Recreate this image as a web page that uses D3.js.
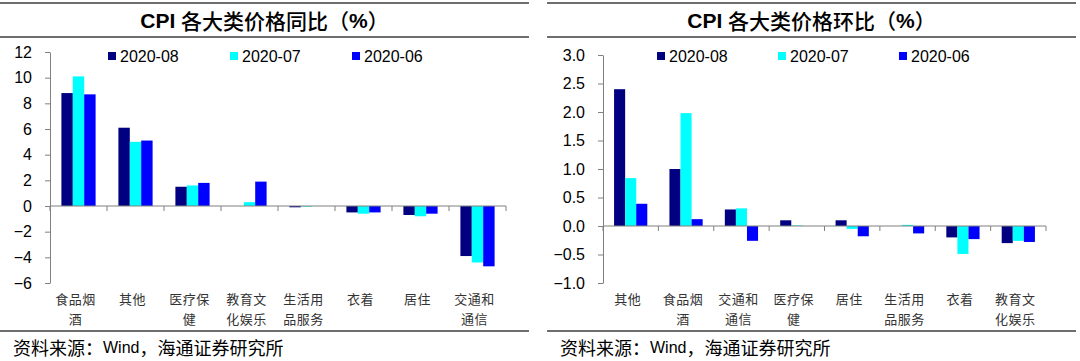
<!DOCTYPE html>
<html>
<head>
<meta charset="utf-8">
<script src="https://cdn.jsdelivr.net/npm/d3@7"></script>
<style>
  html, body { margin: 0; padding: 0; background: #fff; }
  svg { display: block; }
</style>
</head>
<body>
<svg id="chart" width="1080" height="361"></svg>
<script>
// ---------- data ----------
const seriesNames = ["2020-08", "2020-07", "2020-06"];
const seriesColors = ["#000080", "#00FFFF", "#0000FF"];

// 同比 (year on year)
const yoyCategories = ["食品烟酒", "其他", "医疗保健", "教育文化娱乐", "生活用品服务", "衣着", "居住", "交通和通信"];
const yoy202008 = [8.8, 6.1, 1.5, 0.0, -0.1, -0.5, -0.7, -3.9];
const yoy202007 = [10.1, 5.0, 1.6, 0.3, -0.05, -0.6, -0.8, -4.4];
const yoy202006 = [8.7, 5.1, 1.8, 1.9, 0.0, -0.5, -0.6, -4.7];
const yoyTicks = [-6, -4, -2, 0, 2, 4, 6, 8, 10, 12];

// 环比 (month on month)
const momCategories = ["其他", "食品烟酒", "交通和通信", "医疗保健", "居住", "生活用品服务", "衣着", "教育文化娱乐"];
const mom202008 = [2.4, 1.0, 0.29, 0.1, 0.1, 0.0, -0.2, -0.3];
const mom202007 = [0.84, 1.98, 0.31, 0.01, -0.05, 0.02, -0.49, -0.26];
const mom202006 = [0.39, 0.12, -0.26, 0.0, -0.18, -0.13, -0.23, -0.28];
const momTicks = [-1.0, -0.5, 0.0, 0.5, 1.0, 1.5, 2.0, 2.5, 3.0];

const sourceParts = ["资料来源：", "Wind", "，海通证券研究所"];

// ---------- drawing ----------
const svg = d3.select("#chart");
const FONT = "'Liberation Sans', Arial, 'Noto Sans CJK SC', sans-serif";
const CJK = "'Noto Sans CJK SC', 'Liberation Sans', sans-serif";

function wrap3(s) {
  const out = [];
  for (let i = 0; i < s.length; i += 3) out.push(s.slice(i, i + 3));
  return out;
}

function drawPanel(cfg) {
  const g = svg.append("g");
  // frame lines
  [3, 37, 331].forEach(y => {
    g.append("line")
      .attr("x1", cfg.left).attr("x2", cfg.right)
      .attr("y1", y).attr("y2", y)
      .attr("stroke", "#6e6e6e").attr("stroke-width", 2);
  });
  // title
  const t = g.append("text")
    .attr("x", (cfg.left + cfg.right) / 2).attr("y", 20)
    .attr("text-anchor", "middle").attr("dominant-baseline", "central")
    .attr("font-size", 21).attr("fill", "#000");
  t.append("tspan").attr("font-family", FONT).attr("font-weight", "bold").text("CPI ");
  t.append("tspan").attr("font-family", CJK).attr("font-weight", "500").text(cfg.titleCjk);
  t.append("tspan").attr("font-family", CJK).attr("font-weight", "500").text("（");
  t.append("tspan").attr("font-family", FONT).attr("font-weight", "bold").text("%");
  t.append("tspan").attr("font-family", CJK).attr("font-weight", "500").text("）");

  // source
  const src = g.append("text")
    .attr("x", cfg.left + 13).attr("y", 347)
    .attr("dominant-baseline", "central").attr("fill", "#000");
  src.append("tspan").attr("font-family", CJK).attr("font-size", 18).text(sourceParts[0]);
  src.append("tspan").attr("font-family", FONT).attr("font-size", 16).text(sourceParts[1]);
  src.append("tspan").attr("font-family", CJK).attr("font-size", 18).text(sourceParts[2]);

  const x0 = d3.scaleBand().domain(cfg.categories).range(cfg.xRange).padding(0);
  const x1 = d3.scaleBand().domain(seriesNames)
    .range([x0.bandwidth() * 0.2, x0.bandwidth() * 0.8]).padding(0);
  const y = d3.scaleLinear().domain(cfg.yDomain).range(cfg.yRange);

  // bars
  const rows = cfg.categories.map((c, i) => ({
    cat: c,
    vals: seriesNames.map((s, k) => ({ s, v: cfg.series[k][i], color: seriesColors[k] }))
  }));
  const grp = g.selectAll("g.cat").data(rows).join("g")
    .attr("transform", d => `translate(${x0(d.cat)},0)`);
  grp.selectAll("rect").data(d => d.vals).join("rect")
    .attr("x", d => x1(d.s))
    .attr("width", x1.bandwidth())
    .attr("y", d => y(Math.max(0, d.v)))
    .attr("height", d => Math.abs(y(d.v) - y(0)))
    .attr("fill", d => d.color);

  // y axis
  const yAxis = d3.axisLeft(y).tickValues(cfg.ticks).tickFormat(cfg.fmt)
    .tickSize(5).tickSizeOuter(0).tickPadding(13);
  const ya = g.append("g").attr("transform", `translate(${cfg.xRange[0]},0)`).call(yAxis);
  ya.selectAll("path, line").attr("stroke", "#808080");
  ya.selectAll("text").attr("font-family", FONT).attr("font-size", 16).attr("fill", "#000");

  // x axis at zero
  const y0 = y(0);
  g.append("line").attr("x1", cfg.xRange[0]).attr("x2", cfg.xRange[1])
    .attr("y1", y0).attr("y2", y0).attr("stroke", "#808080");
  const bounds = cfg.categories.map(c => x0(c)).concat([cfg.xRange[1]]);
  g.selectAll("line.xt").data(bounds).join("line")
    .attr("x1", d => d).attr("x2", d => d)
    .attr("y1", y0).attr("y2", y0 + 5).attr("stroke", "#808080");

  // category labels
  const lab = g.selectAll("text.cl").data(cfg.categories).join("text")
    .attr("font-family", CJK).attr("font-size", 13).attr("fill", "#333")
    .attr("letter-spacing", 0.5)
    .attr("text-anchor", "middle");
  lab.each(function (d) {
    const parts = wrap3(d);
    const cx = x0(d) + x0.bandwidth() / 2 - 3;
    parts.forEach((p, j) => {
      d3.select(this).append("tspan")
        .attr("x", cx).attr("y", 298 + j * 20)
        .attr("dominant-baseline", "central").text(p);
    });
  });

  // legend
  seriesNames.forEach((s, k) => {
    const lx = cfg.legendX + k * cfg.legendStep;
    g.append("rect").attr("x", lx).attr("y", 52).attr("width", 8).attr("height", 8)
      .attr("fill", seriesColors[k]);
    g.append("text").attr("x", lx + 12).attr("y", 56)
      .attr("dominant-baseline", "central")
      .attr("font-family", FONT).attr("font-size", 16).attr("fill", "#000").text(s);
  });
}

drawPanel({
  left: 0, right: 529,
  titleCjk: "各大类价格同比",
  categories: yoyCategories,
  series: [yoy202008, yoy202007, yoy202006],
  xRange: [50, 506], yDomain: [-6, 12], yRange: [283, 52],
  ticks: yoyTicks, fmt: d3.format("d"),
  legendX: 108, legendStep: 122
});

drawPanel({
  left: 547, right: 1076,
  titleCjk: "各大类价格环比",
  categories: momCategories,
  series: [mom202008, mom202007, mom202006],
  xRange: [603, 1046], yDomain: [-1, 3], yRange: [283, 55],
  ticks: momTicks, fmt: d3.format(".1f"),
  legendX: 657, legendStep: 121
});
</script>
</body>
</html>
